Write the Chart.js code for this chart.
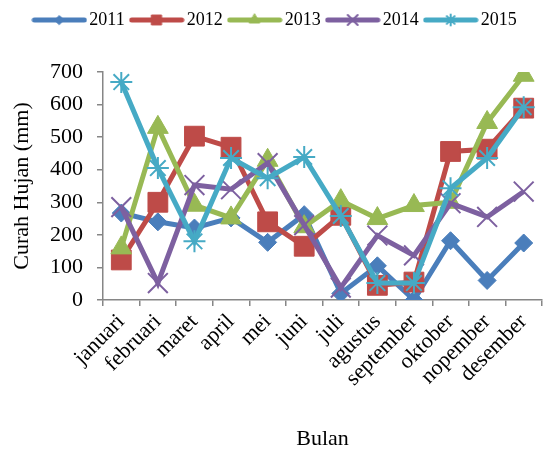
<!DOCTYPE html>
<html>
<head>
<meta charset="utf-8">
<script src="https://cdn.jsdelivr.net/npm/chart.js@4/dist/chart.umd.min.js"></script>
<style>
  html, body { margin: 0; padding: 0; background: #fff; }
  #wrap { width: 558px; height: 452px; position: relative; }
</style>
</head>
<body>
<div id="wrap"><canvas id="rain"></canvas></div>
<script>
const months = ["januari", "februari", "maret", "april", "mei", "juni", "juli",
  "agustus", "september", "oktober", "nopember", "desember"];
const yTicks = [0, 100, 200, 300, 400, 500, 600, 700];

const rain2011 = [267, 240, 221, 252, 177, 262, 20, 105, 0, 182, 60, 175];
const rain2012 = [123, 300, 503, 469, 240, 165, 260, 45, 55, 456, 463, 589];
const rain2013 = [160, 530, 291, 252, 429, 225, 305, 250, 290, 300, 545, 690];
const rain2014 = [285, 52, 353, 340, 420, 230, 38, 198, 137, 297, 255, 333];
const rain2015 = [669, 405, 180, 436, 374, 439, 258, 52, 52, 343, 436, 592];

const FONT = "'Liberation Serif', 'Times New Roman', serif";

const series = [
  { label: "2011", data: rain2011, color: "#4a7ebb", style: "rectRot", r: 9, bw: 1 },
  { label: "2012", data: rain2012, color: "#be4b48", style: "rect", r: 14, bw: 1 },
  { label: "2013", data: rain2013, color: "#98b954", style: "triangle", r: 12, bw: 1 },
  { label: "2014", data: rain2014, color: "#7d60a0", style: "crossRot", r: 14, bw: 2 },
  { label: "2015", data: rain2015, color: "#46aac5", style: "star", r: 11, bw: 2 },
];

// line+marker swatch for the legend, a bit wider than its box
function swatch(s) {
  const c = document.createElement("canvas");
  c.width = 56; c.height = 20;
  const g = c.getContext("2d");
  g.strokeStyle = s.color;
  g.fillStyle = s.color;
  g.lineWidth = 5;
  g.lineCap = "round";
  g.beginPath(); g.moveTo(3, 10); g.lineTo(53, 10); g.stroke();
  g.lineWidth = s.bw;
  Chart.helpers.drawPoint(g, { pointStyle: s.style, radius: s.r * 0.5, borderWidth: s.bw }, 28, 10);
  return c;
}

const datasets = series.map((s, i) => ({
  label: s.label,
  data: s.data,
  borderColor: s.color,
  backgroundColor: s.color,
  borderWidth: 5,
  tension: 0,
  pointStyle: s.style,
  pointRadius: s.r,
  pointHoverRadius: s.r,
  pointBorderWidth: s.bw,
  pointBackgroundColor: s.color,
  pointBorderColor: s.color,
  order: series.length - i, // later years on top, like the original
}));

const swatches = series.map(swatch);

// extra room under the legend
const legendGap = {
  id: "legendGap",
  beforeInit(chart) {
    const fit = chart.legend.fit;
    chart.legend.fit = function () {
      fit.bind(chart.legend)();
      this.height += 33;
    };
  },
};

new Chart(document.getElementById("rain"), {
  type: "line",
  data: { labels: months, datasets },
  plugins: [legendGap],
  options: {
    responsive: true,
    maintainAspectRatio: false,
    animation: false,
    layout: { padding: { left: 0, right: 3, top: 0, bottom: 0 } },
    plugins: {
      tooltip: { enabled: false },
      legend: {
        position: "top",
        labels: {
          font: { family: FONT, size: 18 },
          color: "#000",
          usePointStyle: true,
          pointStyleWidth: 42,
          boxHeight: 18,
          padding: 11,
          generateLabels: (chart) => chart.data.datasets.map((ds, i) => ({
            text: ds.label,
            datasetIndex: i,
            pointStyle: swatches[i],
            fillStyle: ds.borderColor,
            strokeStyle: ds.borderColor,
            lineWidth: 0,
            fontColor: "#000",
            hidden: false,
          })),
        },
      },
    },
    scales: {
      x: {
        offset: true,
        grid: { display: true, offset: true, drawOnChartArea: false, drawTicks: true, tickLength: 6, color: "#868686", lineWidth: 1.5 },
        border: { color: "#868686", width: 1.5 },
        ticks: { color: "#000", font: { family: FONT, size: 22 }, minRotation: 45, maxRotation: 45, padding: 3, autoSkip: false },
        title: { display: true, text: "Bulan", color: "#000", font: { family: FONT, size: 22 }, padding: { top: 0, bottom: 0 } },
        afterFit: (sc) => { sc.height = 152; },
      },
      y: {
        min: 0,
        max: 700,
        afterBuildTicks: (sc) => { sc.ticks = yTicks.map((v) => ({ value: v })); },
        grid: { display: true, drawOnChartArea: false, drawTicks: true, tickLength: 6, color: "#868686", lineWidth: 1.5 },
        border: { color: "#868686", width: 1.5 },
        ticks: { color: "#000", font: { family: FONT, size: 22 }, padding: 14 },
        title: { display: true, text: "Curah Hujan (mm)", color: "#000", font: { family: FONT, size: 22 }, padding: { top: 9, bottom: 0 } },
        afterFit: (sc) => { sc.width = 103; },
      },
    },
  },
});
</script>
</body>
</html>
